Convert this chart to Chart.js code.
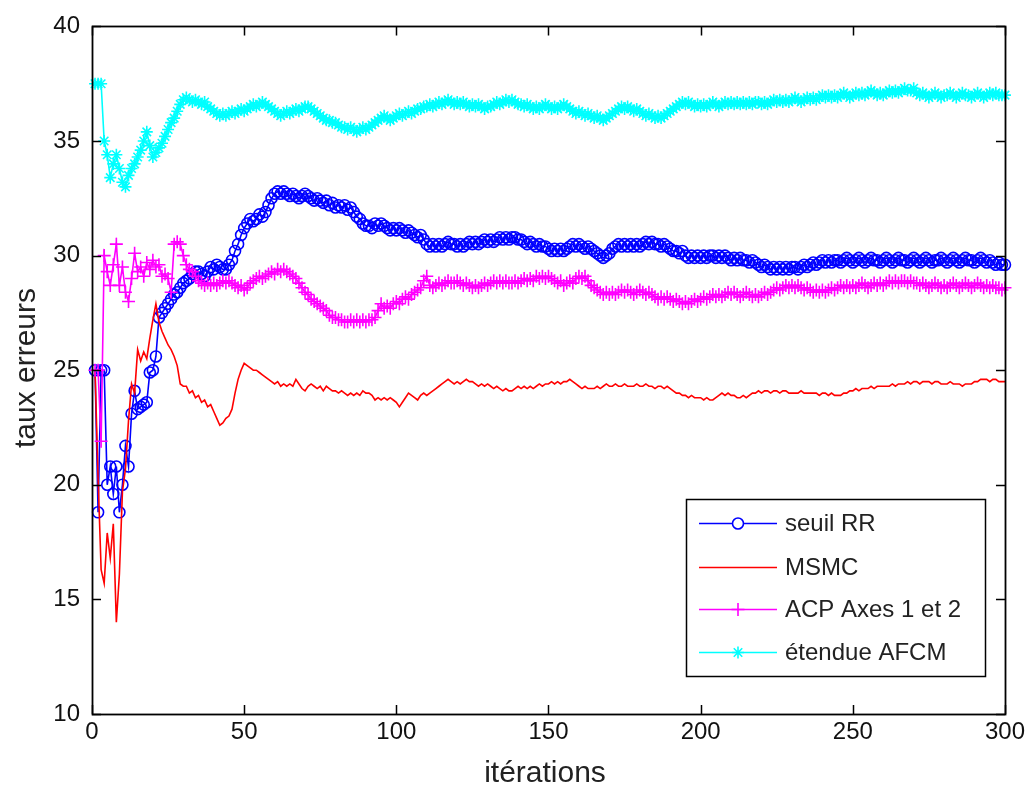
<!DOCTYPE html>
<html>
<head>
<meta charset="utf-8">
<script src="https://cdn.jsdelivr.net/npm/chart.js@4.4.1/dist/chart.umd.min.js"></script>
<style>
  html, body { margin: 0; padding: 0; background: #fff; }
  #wrap { width: 1029px; height: 792px; }
</style>
</head>
<body>
<div id="wrap"><canvas id="chart" width="1029" height="792"></canvas></div>
<script>
// ===== Taux d'erreurs par itération =====

const xTicks = [0, 50, 100, 150, 200, 250, 300];
const yTicks = [10, 15, 20, 25, 30, 35, 40];
const seriesNames = ['seuil RR', 'MSMC', 'ACP Axes 1 et 2', '\u00e9tendue AFCM'];

// iteration numbers 1..300 (the category axis)
const iterations = Array.from({ length: 300 }, (_, i) => i + 1);

const seuilRR = [
  25.0, 18.8, 25.0, 25.0, 20.0, 20.8, 19.6, 20.8, 18.8, 20.0,
  21.7, 20.8, 23.1, 24.1, 23.3, 23.4, 23.5, 23.6, 24.9, 25.0,
  25.6, 27.3, 27.5, 27.7, 27.9, 28.1, 28.3, 28.4, 28.6, 28.8,
  28.9, 29.0, 29.2, 29.3, 29.3, 29.2, 29.1, 29.3, 29.5, 29.4,
  29.6, 29.5, 29.4, 29.4, 29.6, 29.8, 30.2, 30.5, 30.9, 31.2,
  31.4, 31.6, 31.5, 31.6, 31.8, 31.7, 31.9, 32.2, 32.5, 32.7,
  32.8, 32.7, 32.8, 32.7, 32.6, 32.7, 32.6, 32.5, 32.6, 32.7,
  32.6, 32.5, 32.4, 32.5, 32.4, 32.3, 32.4, 32.2, 32.3, 32.1,
  32.2, 32.1, 32.2, 32.0, 32.1, 31.9, 31.7, 31.6, 31.4, 31.3,
  31.3, 31.2, 31.4, 31.3, 31.4, 31.3, 31.2, 31.1, 31.2, 31.1,
  31.2, 31.1, 31.0, 31.1, 31.0, 30.9, 30.8, 30.9, 30.7, 30.5,
  30.4, 30.5, 30.4, 30.5, 30.4, 30.5, 30.6, 30.5, 30.5, 30.4,
  30.5, 30.4, 30.5, 30.6, 30.5, 30.6, 30.5, 30.6, 30.7, 30.6,
  30.7, 30.6, 30.7, 30.8, 30.7, 30.8, 30.7, 30.8, 30.8, 30.7,
  30.7, 30.6, 30.5, 30.6, 30.5, 30.4, 30.5, 30.4, 30.4, 30.3,
  30.2, 30.3, 30.2, 30.3, 30.2, 30.3, 30.4, 30.5, 30.4, 30.5,
  30.4, 30.3, 30.4, 30.3, 30.2, 30.1, 30.0, 29.9, 30.0, 30.1,
  30.3, 30.4, 30.5, 30.4, 30.5, 30.4, 30.5, 30.4, 30.5, 30.4,
  30.5, 30.6, 30.5, 30.6, 30.5, 30.5, 30.4, 30.5, 30.4, 30.3,
  30.2, 30.2, 30.1, 30.2, 30.0, 29.9, 30.0, 29.9, 30.0, 29.9,
  30.0, 29.9, 30.0, 30.0, 29.9, 30.0, 29.9, 30.0, 29.9, 29.8,
  29.9, 29.8, 29.9, 29.8, 29.8, 29.7, 29.8, 29.7, 29.6, 29.5,
  29.6, 29.5, 29.4, 29.5, 29.4, 29.5, 29.4, 29.5, 29.4, 29.5,
  29.5, 29.4, 29.5, 29.6, 29.5, 29.6, 29.7, 29.6, 29.7, 29.8,
  29.7, 29.8, 29.7, 29.8, 29.8, 29.7, 29.8, 29.9, 29.8, 29.7,
  29.8, 29.9, 29.8, 29.7, 29.8, 29.9, 29.8, 29.8, 29.7, 29.8,
  29.9, 29.8, 29.7, 29.8, 29.9, 29.8, 29.8, 29.7, 29.8, 29.9,
  29.8, 29.7, 29.8, 29.9, 29.8, 29.7, 29.8, 29.8, 29.9, 29.8,
  29.7, 29.8, 29.9, 29.8, 29.7, 29.8, 29.9, 29.8, 29.8, 29.7,
  29.8, 29.9, 29.8, 29.7, 29.8, 29.7, 29.6, 29.7, 29.6, 29.6
];

const msmc = [
  25.0, 20.3, 16.3, 15.7, 17.9, 16.8, 18.3, 14.0, 16.1, 19.7,
  20.7, 22.8, 24.4, 24.0, 25.9, 25.4, 25.8, 25.5, 26.4, 27.2,
  27.9, 27.1, 26.7, 26.4, 26.1, 25.9, 25.6, 25.2, 24.4, 24.3,
  24.3, 24.0, 24.1, 23.8, 23.9, 23.6, 23.7, 23.4, 23.5, 23.2,
  22.9, 22.6, 22.7, 22.9, 23.0, 23.3, 24.0, 24.6, 25.0, 25.3,
  25.2, 25.1, 25.0, 25.0, 24.9, 24.8, 24.7, 24.6, 24.5, 24.4,
  24.5, 24.3, 24.4, 24.3, 24.4, 24.3, 24.6, 24.4, 24.2, 24.1,
  24.3, 24.4, 24.3, 24.2, 24.3, 24.1, 24.3, 24.2, 24.1, 24.1,
  24.0, 24.1, 24.0, 23.9, 24.0, 23.9, 24.0, 23.9, 24.1, 24.0,
  24.0, 23.9, 23.7, 23.8, 23.7, 23.8, 23.7, 23.8, 23.7, 23.6,
  23.4, 23.6, 23.8, 24.0, 23.9, 23.8, 23.7, 23.9, 24.0, 23.9,
  24.0, 24.1, 24.2, 24.3, 24.4, 24.5, 24.6, 24.5, 24.4, 24.5,
  24.4, 24.5, 24.6, 24.5, 24.5, 24.4, 24.3, 24.4, 24.3, 24.4,
  24.3, 24.2, 24.3, 24.2, 24.1, 24.2, 24.1, 24.1, 24.2, 24.3,
  24.2, 24.3, 24.2, 24.3, 24.2, 24.3, 24.4, 24.3, 24.4, 24.4,
  24.5, 24.4, 24.5, 24.4, 24.5, 24.5, 24.6, 24.5, 24.4, 24.3,
  24.2, 24.3, 24.2, 24.2, 24.2, 24.3, 24.2, 24.3, 24.4, 24.3,
  24.3, 24.4, 24.3, 24.3, 24.4, 24.3, 24.3, 24.3, 24.4, 24.3,
  24.3, 24.4, 24.3, 24.3, 24.2, 24.3, 24.3, 24.2, 24.3, 24.2,
  24.1, 24.0, 24.0, 23.9, 23.9, 23.8, 23.9, 23.8, 23.8, 23.8,
  23.7, 23.8, 23.7, 23.7, 23.8, 23.9, 24.0, 23.9, 24.0, 23.9,
  23.9, 23.8, 23.8, 23.9, 23.8, 23.9, 24.0, 24.0, 24.1, 24.0,
  24.1, 24.1, 24.0, 24.1, 24.1, 24.0, 24.1, 24.1, 24.0, 24.0,
  24.0, 24.0, 24.1, 24.0, 24.0, 24.0, 24.0, 24.0, 23.9, 24.0,
  24.0, 23.9, 24.0, 23.9, 23.9, 23.9, 24.0, 24.0, 24.1, 24.1,
  24.2, 24.1, 24.2, 24.2, 24.2, 24.3, 24.2, 24.3, 24.3, 24.3,
  24.3, 24.3, 24.4, 24.3, 24.4, 24.4, 24.4, 24.5, 24.4, 24.5,
  24.5, 24.4, 24.5, 24.5, 24.5, 24.4, 24.5, 24.5, 24.4, 24.4,
  24.4, 24.5, 24.4, 24.4, 24.4, 24.3, 24.4, 24.4, 24.4, 24.5,
  24.5, 24.6, 24.6, 24.6, 24.5, 24.6, 24.6, 24.5, 24.5, 24.5
];

const acpAxes12 = [
  25.0, 25.0, 21.9, 30.0, 29.3, 28.7, 29.6, 30.5, 28.7, 29.5,
  28.4, 28.0, 29.0, 30.1, 29.3, 29.5, 29.1, 29.7, 29.4, 29.8,
  29.5, 29.6, 29.1, 29.2, 29.0, 28.4, 30.5, 30.6, 30.5, 30.0,
  29.6, 29.4, 29.3, 29.1, 28.9, 28.8, 28.7, 28.8, 28.7, 28.8,
  28.7, 28.8, 28.9, 28.8, 28.9, 28.8, 28.7, 28.6, 28.7, 28.5,
  28.6, 28.8, 28.9, 29.0, 29.1, 29.0, 29.1, 29.2, 29.3, 29.2,
  29.4, 29.3, 29.4, 29.3, 29.2, 29.1, 29.0, 28.8, 28.6, 28.4,
  28.3, 28.1, 28.0, 27.9, 27.8, 27.7, 27.6, 27.4, 27.3, 27.3,
  27.2, 27.2, 27.1, 27.1, 27.2, 27.1, 27.2, 27.1, 27.2, 27.1,
  27.2, 27.2, 27.3, 27.6, 27.9, 27.7, 27.8, 27.7, 27.9, 28.0,
  27.9, 28.1, 28.2, 28.1, 28.3, 28.4, 28.5, 28.6, 28.9, 29.1,
  28.7, 28.6, 28.7, 28.8, 28.7, 28.8, 28.9, 28.8, 28.8, 28.9,
  28.8, 28.7, 28.8, 28.7, 28.6, 28.7, 28.6, 28.7, 28.8, 28.7,
  28.8, 28.9, 28.8, 28.9, 28.8, 28.9, 28.8, 28.8, 28.9, 28.8,
  28.9, 29.0, 28.9, 29.0, 28.9, 29.1, 29.0, 29.1, 29.0, 29.1,
  29.0, 28.9, 28.8, 28.9, 28.7, 28.8, 28.9, 28.8, 29.0, 29.1,
  29.0, 29.1, 28.9, 28.7, 28.6, 28.5, 28.4, 28.3, 28.4, 28.3,
  28.4, 28.3, 28.4, 28.5, 28.4, 28.5, 28.4, 28.3, 28.4, 28.5,
  28.4, 28.3, 28.4, 28.3, 28.2, 28.1, 28.2, 28.1, 28.2, 28.1,
  28.0, 28.1, 28.0, 27.9, 28.0, 27.9, 28.0, 28.1, 28.0, 28.1,
  28.2, 28.1, 28.2, 28.3, 28.2, 28.3, 28.2, 28.3, 28.4, 28.3,
  28.4, 28.3, 28.2, 28.3, 28.4, 28.3, 28.2, 28.3, 28.2, 28.3,
  28.4, 28.3, 28.4, 28.5, 28.6, 28.5, 28.6, 28.7, 28.6, 28.7,
  28.6, 28.7, 28.6, 28.5, 28.6, 28.5, 28.4, 28.5, 28.4, 28.5,
  28.4, 28.5, 28.6, 28.5, 28.6, 28.7, 28.6, 28.7, 28.6, 28.7,
  28.6, 28.7, 28.8, 28.7, 28.6, 28.7, 28.8, 28.7, 28.8, 28.7,
  28.8, 28.9, 28.8, 28.9, 28.8, 28.9, 28.9, 28.8, 28.9, 28.8,
  28.8, 28.7, 28.8, 28.7, 28.6, 28.7, 28.8, 28.7, 28.6, 28.7,
  28.6, 28.7, 28.8, 28.7, 28.6, 28.7, 28.8, 28.7, 28.6, 28.7,
  28.8, 28.7, 28.6, 28.7, 28.6, 28.7, 28.6, 28.6, 28.5, 28.6
];

const etendueAFCM = [
  37.5, 37.5, 37.5, 35.0, 34.4, 33.4, 34.0, 34.4, 33.8, 33.2,
  33.0, 33.5, 33.8, 34.0, 34.3, 34.6, 35.0, 35.4, 34.8, 34.3,
  34.5, 34.7, 34.9, 35.2, 35.5, 35.8, 36.0, 36.3, 36.6, 36.8,
  36.9, 36.8, 36.7, 36.8, 36.7, 36.6, 36.7, 36.5, 36.4, 36.3,
  36.2, 36.1, 36.2, 36.1, 36.2, 36.3, 36.2, 36.3, 36.4, 36.3,
  36.4, 36.5, 36.6, 36.5, 36.6, 36.7, 36.6, 36.5, 36.4, 36.3,
  36.2, 36.1, 36.2, 36.3, 36.2, 36.3, 36.4, 36.3, 36.4, 36.5,
  36.5, 36.4, 36.3, 36.2, 36.1, 36.0, 35.9, 35.9, 35.8, 35.8,
  35.7, 35.6, 35.6, 35.5, 35.6, 35.5, 35.4, 35.5, 35.6, 35.5,
  35.6, 35.7, 35.8, 35.9, 36.0, 36.1, 36.0, 35.9, 36.0, 36.1,
  36.2, 36.1, 36.2, 36.3, 36.2, 36.3, 36.4, 36.4, 36.5, 36.5,
  36.6, 36.5, 36.6, 36.7, 36.6, 36.7, 36.8, 36.7, 36.6, 36.7,
  36.6, 36.7, 36.6, 36.5, 36.6, 36.5, 36.6, 36.5, 36.4, 36.5,
  36.5, 36.6, 36.7, 36.6, 36.7, 36.8, 36.7, 36.8, 36.7, 36.6,
  36.6, 36.5, 36.6, 36.5, 36.4, 36.5, 36.4, 36.5, 36.6, 36.5,
  36.4, 36.5, 36.4, 36.5, 36.6, 36.5, 36.4, 36.3, 36.2, 36.3,
  36.2, 36.1, 36.2, 36.1, 36.0, 36.1, 36.0, 35.9, 36.0, 36.1,
  36.2, 36.3, 36.4, 36.5, 36.4, 36.5, 36.4, 36.3, 36.4, 36.3,
  36.2, 36.1, 36.2, 36.1, 36.0, 36.1, 36.0, 36.1, 36.2, 36.3,
  36.4, 36.5, 36.6, 36.7, 36.6, 36.7, 36.6, 36.5, 36.6, 36.5,
  36.6, 36.5, 36.6, 36.7, 36.6, 36.5, 36.6, 36.7, 36.6, 36.7,
  36.6, 36.7, 36.6, 36.7, 36.6, 36.7, 36.6, 36.7, 36.7, 36.6,
  36.7, 36.6, 36.7, 36.8, 36.7, 36.8, 36.7, 36.8, 36.7, 36.8,
  36.9, 36.8, 36.7, 36.8, 36.9, 36.8, 36.9, 36.8, 36.9, 37.0,
  36.9, 37.0, 36.9, 37.0, 36.9, 37.0, 37.1, 37.0, 36.9, 37.0,
  37.1, 37.0, 37.1, 37.0, 37.1, 37.2, 37.1, 37.0, 37.1, 37.0,
  37.1, 37.2, 37.1, 37.2, 37.1, 37.2, 37.3, 37.2, 37.2, 37.3,
  37.1, 37.0, 37.1, 37.0, 36.9, 37.0, 37.1, 37.0, 36.9, 37.0,
  37.0, 37.1, 37.0, 36.9, 37.0, 37.1, 37.0, 37.0, 36.9, 37.0,
  37.1, 37.0, 36.9, 37.0, 37.1, 37.0, 37.1, 37.0, 37.0, 37.0
];

const FONT = "'Liberation Sans', Arial, Helvetica, sans-serif";

function toPoints(values) {
  return values.map((v, i) => ({ x: iterations[i], y: v }));
}

// MATLAB-like frame: box around the plot area with ticks pointing inward
const frameTicks = {
  id: 'frameTicks',
  afterDatasetsDraw(chart) {
    const { ctx, chartArea: a, scales } = chart;
    const len = 9;
    ctx.save();
    ctx.strokeStyle = '#000';
    ctx.lineWidth = 1.5;
    ctx.beginPath();
    xTicks.forEach(t => {
      const px = Math.round(scales.x.getPixelForValue(t)) + 0.5;
      ctx.moveTo(px, a.bottom); ctx.lineTo(px, a.bottom - len);
      ctx.moveTo(px, a.top); ctx.lineTo(px, a.top + len);
    });
    yTicks.forEach(t => {
      const py = Math.round(scales.y.getPixelForValue(t)) + 0.5;
      ctx.moveTo(a.left, py); ctx.lineTo(a.left + len, py);
      ctx.moveTo(a.right, py); ctx.lineTo(a.right - len, py);
    });
    ctx.stroke();
    ctx.lineWidth = 1.8;
    ctx.strokeRect(Math.round(a.left) + 0.5, Math.round(a.top) + 0.5,
      Math.round(a.right - a.left), Math.round(a.bottom - a.top));
    ctx.restore();
  },
  afterDraw(chart) {
    const { ctx } = chart;
    ctx.save();
    ctx.fillStyle = '#222';
    ctx.font = `30px ${FONT}`;
    ctx.textAlign = 'center';
    ctx.textBaseline = 'middle';
    ctx.fillText('it\u00e9rations', 545, 774);
    ctx.translate(27, 368);
    ctx.rotate(-Math.PI / 2);
    ctx.fillText('taux erreurs', 0, 0);
    ctx.restore();
  }
};

// Legend box in the lower right corner
const boxLegend = {
  id: 'boxLegend',
  afterDraw(chart) {
    const { ctx } = chart;
    const box = { x: 686, y: 499, w: 299, h: 177 };
    const rows = [523, 567, 609, 652];
    ctx.save();
    ctx.fillStyle = '#fff';
    ctx.fillRect(box.x, box.y, box.w, box.h);
    ctx.strokeStyle = '#000';
    ctx.lineWidth = 1.5;
    ctx.strokeRect(box.x + 0.5, box.y + 0.5, box.w, box.h);
    chart.data.datasets.forEach((ds, i) => {
      const y = rows[i];
      ctx.strokeStyle = ds.borderColor;
      ctx.lineWidth = ds.borderWidth;
      ctx.beginPath();
      ctx.moveTo(699, y + 0.5);
      ctx.lineTo(777, y + 0.5);
      ctx.stroke();
      if (ds.pointRadius > 0) {
        ctx.lineWidth = ds.pointBorderWidth;
        Chart.helpers.drawPoint(ctx, {
          pointStyle: ds.pointStyle,
          radius: ds.pointRadius,
          borderWidth: ds.pointBorderWidth,
          rotation: 0
        }, 738, y + 0.5);
      }
      ctx.fillStyle = '#222';
      ctx.font = `24px ${FONT}`;
      ctx.textAlign = 'left';
      ctx.textBaseline = 'middle';
      ctx.fillText(seriesNames[i], 785, y + 1);
    });
    ctx.restore();
  }
};

const sets = [
  { data: seuilRR, color: '#0000ff', style: 'circle', radius: 5.5, order: 4 },
  { data: msmc, color: '#ff0000', style: false, radius: 0, order: 3 },
  { data: acpAxes12, color: '#ff00ff', style: 'cross', radius: 6.5, order: 2 },
  { data: etendueAFCM, color: '#00ffff', style: 'star', radius: 6, order: 1 }
];

new Chart(document.getElementById('chart'), {
  type: 'line',
  data: {
    datasets: sets.map((s, i) => ({
      label: seriesNames[i],
      data: toPoints(s.data),
      borderColor: s.color,
      backgroundColor: 'rgba(0,0,0,0)',
      borderWidth: 1.6,
      pointStyle: s.style || 'circle',
      pointRadius: s.radius,
      pointBorderWidth: 1.6,
      pointBorderColor: s.color,
      pointBackgroundColor: 'rgba(0,0,0,0)',
      tension: 0,
      clip: false,
      order: s.order
    }))
  },
  options: {
    responsive: false,
    animation: false,
    events: [],
    layout: { padding: { left: 0, top: 22, right: 22, bottom: 0 } },
    plugins: {
      legend: { display: false },
      tooltip: { enabled: false }
    },
    scales: {
      x: {
        type: 'linear',
        min: 0,
        max: 300,
        afterFit: (s) => { s.height = 78; },
        afterBuildTicks: (s) => { s.ticks = xTicks.map(v => ({ value: v })); },
        grid: { display: false, drawTicks: false },
        border: { display: false },
        ticks: { color: '#111', padding: 4, font: { family: FONT, size: 24 } }
      },
      y: {
        type: 'linear',
        min: 10,
        max: 40,
        afterFit: (s) => { s.width = 92; },
        afterBuildTicks: (s) => { s.ticks = yTicks.map(v => ({ value: v })); },
        grid: { display: false, drawTicks: false },
        border: { display: false },
        ticks: { color: '#111', padding: 12, font: { family: FONT, size: 24 } }
      }
    }
  },
  plugins: [frameTicks, boxLegend]
});
</script>
</body>
</html>
